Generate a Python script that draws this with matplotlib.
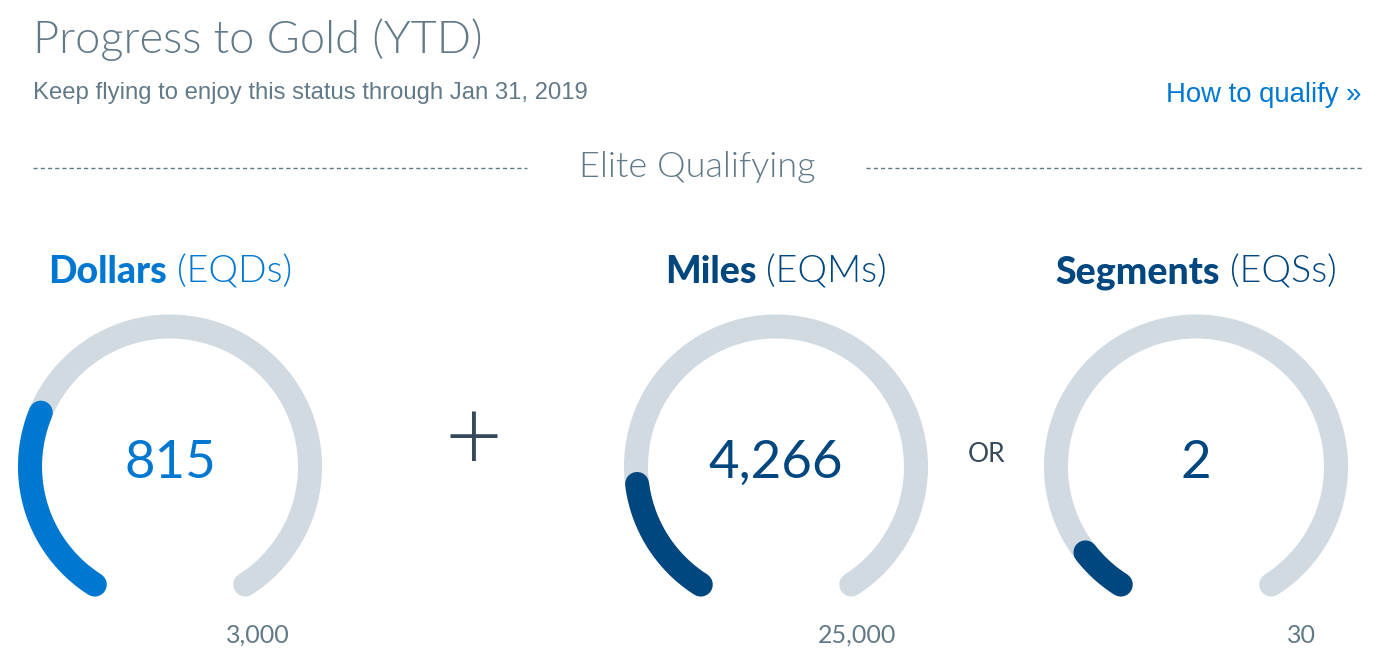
import numpy as np
import matplotlib.pyplot as plt

# gauge data
metrics = ["Dollars", "Miles", "Segments"]
units = ["(EQDs)", "(EQMs)", "(EQSs)"]
values = [815, 4266, 2]
targets = [3000, 25000, 30]
value_labels = ["815", "4,266", "2"]
target_labels = ["3,000", "25,000", "30"]

# look
fill_colors = ["#0078D2", "#00467F", "#00467F"]
track_color = "#D0DAE0"
gray = "#627A88"
dark = "#36495A"
centers_x = [170, 776, 1196]
center_y = 466.5
radius = 140
arc_start, arc_end = 237.5, -57.5   # degrees, gauge runs clockwise
stroke = 24 * 0.72

W, H = 1384, 662
fig = plt.figure(figsize=(W / 100, H / 100), dpi=100)
ax = fig.add_axes([0, 0, 1, 1])
ax.set_xlim(0, W)
ax.set_ylim(H, 0)
ax.axis("off")

SOFT = dict(family="Lato", fontweight="normal")
THIN = dict(family="Lato", fontweight=300)


def arc(cx, frac, color):
    th = np.radians(np.linspace(arc_start, arc_start - (arc_start - arc_end) * frac, 300))
    ax.plot(cx + radius * np.cos(th), center_y - radius * np.sin(th),
            color=color, lw=stroke, solid_capstyle="round")


# header
ax.text(33, 53, "Progress to Gold (YTD)", fontsize=32.5, color=gray, **THIN)
ax.text(33, 99, "Keep flying to enjoy this status through Jan 31, 2019",
        fontsize=17.2, color=gray, family="Liberation Sans")
ax.text(1361, 102, "How to qualify \u00bb", fontsize=19.8, color="#0078D2",
        family="Liberation Sans", ha="right")
ax.text(697, 177, "Elite Qualifying", fontsize=26, color=gray, ha="center", **THIN)
ax.plot([33, 527], [168, 168], color=gray, lw=1, dashes=(3, 2.2))
ax.plot([866, 1362], [168, 168], color=gray, lw=1, dashes=(3, 2.2))

fig.canvas.draw()
renderer = fig.canvas.get_renderer()

for i, name in enumerate(metrics):
    cx = centers_x[i]
    hcol = fill_colors[i]
    # title: bold name + light unit, centred over the gauge
    t1 = ax.text(0, 283, name, fontsize=27, color=hcol, family="Lato", fontweight="black")
    t2 = ax.text(0, 283, units[i], fontsize=27, color=hcol, **THIN)
    w1 = t1.get_window_extent(renderer).width
    w2 = t2.get_window_extent(renderer).width
    gap = 10
    left = cx - (w1 + gap + w2) / 2
    t1.set_x(left)
    t2.set_x(left + w1 + gap)

    arc(cx, 1.0, track_color)
    arc(cx, values[i] / targets[i], fill_colors[i])
    ax.text(cx, 478, value_labels[i], fontsize=38, color=hcol, ha="center", **SOFT)
    ax.text(cx + 120, 643, target_labels[i], fontsize=18, color=gray, ha="right",
            family="Lato")

ax.text(473, 442, "+", fontsize=72, color=dark, ha="center", va="center", **THIN)
ax.text(987, 462, "OR", fontsize=19, color=dark, ha="center", family="Lato")

fig.savefig("out.png", dpi=100)
